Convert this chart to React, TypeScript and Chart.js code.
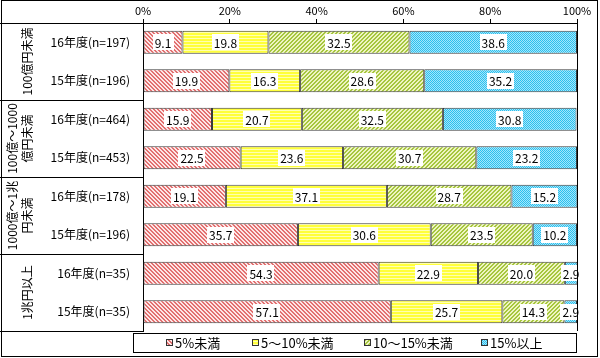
import React, { useEffect, useRef } from 'react';
import { Chart, registerables } from 'chart.js';

Chart.register(...registerables);

const categories = [
  '16年度(n=197)', '15年度(n=196)',
  '16年度(n=464)', '15年度(n=453)',
  '16年度(n=178)', '15年度(n=196)',
  '16年度(n=35)', '15年度(n=35)',
];
const groupLabels = [
  ['100億円未満'],
  ['100億～1000', '億円未満'],
  ['1000億～1兆', '円未満'],
  ['1兆円以上'],
];
const seriesNames = ['5%未満', '5～10%未満', '10～15%未満', '15%以上'];
const under5 = [9.1, 19.9, 15.9, 22.5, 19.1, 35.7, 54.3, 57.1];
const from5to10 = [19.8, 16.3, 20.7, 23.6, 37.1, 30.6, 22.9, 25.7];
const from10to15 = [32.5, 28.6, 32.5, 30.7, 28.7, 23.5, 20.0, 14.3];
const over15 = [38.6, 35.2, 30.8, 23.2, 15.2, 10.2, 2.9, 2.9];
const xTicks = [0, 20, 40, 60, 80, 100];

const FONT = '"Noto Sans CJK JP", "Noto Sans", sans-serif';

function makePattern(size: number, fn: (x: number, y: number) => string): CanvasPattern | string {
  const c = document.createElement('canvas');
  c.width = size;
  c.height = size;
  const g = c.getContext('2d');
  if (!g) return '#ccc';
  for (let y = 0; y < size; y++) {
    for (let x = 0; x < size; x++) {
      g.fillStyle = fn(x, y);
      g.fillRect(x, y, 1, 1);
    }
  }
  return g.createPattern(c, 'repeat') || '#ccc';
}

export default function App() {
  const ref = useRef<HTMLCanvasElement | null>(null);

  useEffect(() => {
    if (!ref.current) return;
    const patterns = [
      makePattern(4, (x, y) => ((((x - y) % 4) + 4) % 4 < 2 ? '#e27070' : '#fde6e6')),
      makePattern(3, (x, y) => (y % 3 === 2 ? '#ffffb0' : '#ffff3a')),
      makePattern(4, (x, y) => ((x + y) % 4 < 2 ? '#a6c63e' : '#eef4c2')),
      makePattern(2, (x, y) => ((x + y) % 2 === 0 ? '#2cc0ee' : '#a4e6fb')),
    ];
    const values = [under5, from5to10, from10to15, over15];

    const decor = {
      id: 'decor',
      afterDatasetsDraw(chart: any) {
        const ctx = chart.ctx as CanvasRenderingContext2D;
        ctx.save();
        ctx.font = `12px ${FONT}`;
        ctx.textAlign = 'center';
        ctx.textBaseline = 'middle';
        chart.data.datasets.forEach((ds: any, di: number) => {
          const meta = chart.getDatasetMeta(di);
          meta.data.forEach((bar: any, i: number) => {
            const v = ds.data[i] as number;
            const cx = (bar.x + bar.base) / 2;
            const cy = bar.y;
            const t = v.toFixed(1);
            const w = ctx.measureText(t).width + 4;
            ctx.fillStyle = '#ffffff';
            ctx.fillRect(Math.round(cx - w / 2), Math.round(cy - 8), Math.round(w), 16);
            ctx.fillStyle = '#000000';
            ctx.fillText(t, cx, cy + 1);
          });
        });
        ctx.restore();
      },
      afterDraw(chart: any) {
        const ctx = chart.ctx as CanvasRenderingContext2D;
        const area = chart.chartArea;
        const ys = chart.scales.y;
        ctx.save();
        ctx.strokeStyle = '#000';
        ctx.lineWidth = 1;
        // right border of plot
        ctx.beginPath();
        ctx.moveTo(Math.round(area.right) + 0.5, area.top);
        ctx.lineTo(Math.round(area.right) + 0.5, area.bottom);
        ctx.stroke();
        // table lines on the left
        const bounds = [area.top];
        for (let gI = 1; gI < groupLabels.length; gI++) {
          const idx = gI * 2;
          bounds.push((ys.getPixelForValue(idx - 1) + ys.getPixelForValue(idx)) / 2);
        }
        bounds.push(area.bottom);
        bounds.forEach((b) => {
          ctx.beginPath();
          ctx.moveTo(0, Math.round(b) + 0.5);
          ctx.lineTo(area.left, Math.round(b) + 0.5);
          ctx.stroke();
        });
        // group labels (rotated)
        ctx.font = `12px ${FONT}`;
        ctx.fillStyle = '#000';
        ctx.textAlign = 'center';
        ctx.textBaseline = 'middle';
        groupLabels.forEach((lines, gI) => {
          const cy = (bounds[gI] + bounds[gI + 1]) / 2;
          lines.forEach((ln, k) => {
            const cx = 27 - (lines.length - 1 - k) * 15;
            ctx.save();
            ctx.translate(cx, cy);
            ctx.rotate(-Math.PI / 2);
            ctx.fillText(ln, 0, 0);
            ctx.restore();
          });
        });
        // legend
        ctx.strokeRect(133.5, 333.5, 443, 19);
        const lx = [166, 252, 364, 481];
        ctx.font = `13px ${FONT}`;
        ctx.textAlign = 'left';
        seriesNames.forEach((name, i) => {
          ctx.fillStyle = patterns[i] as any;
          ctx.fillRect(lx[i], 339, 7, 7);
          ctx.strokeStyle = '#333';
          ctx.strokeRect(lx[i] + 0.5, 339.5, 6, 6);
          ctx.fillStyle = '#000';
          ctx.fillText(name, lx[i] + 9, 343);
        });
        // outer border
        ctx.strokeStyle = '#000';
        ctx.strokeRect(1.5, 0.5, 596, 356);
        ctx.restore();
      },
    };

    const chart = new Chart(ref.current, {
      type: 'bar',
      data: {
        labels: categories,
        datasets: seriesNames.map((name, i) => ({
          label: name,
          data: values[i],
          backgroundColor: patterns[i] as any,
          borderColor: '#3a3a3a',
          borderWidth: 1,
          borderSkipped: false,
          categoryPercentage: 1,
          barPercentage: 0.6,
        })),
      },
      options: {
        indexAxis: 'y',
        responsive: false,
        animation: false,
        devicePixelRatio: 1,
        layout: { padding: { left: 0, right: 23, top: 0, bottom: 27 } },
        plugins: {
          legend: { display: false },
          tooltip: { enabled: false },
        },
        scales: {
          x: {
            position: 'top',
            stacked: true,
            min: 0,
            max: 100,
            afterBuildTicks: (s: any) => {
              s.ticks = xTicks.map((v) => ({ value: v }));
            },
            ticks: {
              callback: (v: any) => v + '%',
              font: { size: 11, family: FONT },
              color: '#000',
              padding: 2,
              maxRotation: 0,
            },
            grid: { drawOnChartArea: false, drawTicks: true, tickLength: 4, color: '#000' },
            border: { display: true, color: '#000' },
            afterFit: (s: any) => {
              s.height = 23;
            },
          },
          y: {
            stacked: true,
            grid: { display: false, drawTicks: false },
            border: { display: true, color: '#000' },
            ticks: { font: { size: 12, family: FONT }, color: '#000', padding: 13 },
            afterFit: (s: any) => {
              s.width = 143;
            },
          },
        },
      },
      plugins: [decor],
    });
    return () => chart.destroy();
  }, []);

  return (
    <div style={{ position: 'fixed', left: 0, top: 0, width: 600, height: 358, background: '#fff' }}>
      <canvas ref={ref} width={600} height={358} />
    </div>
  );
}
